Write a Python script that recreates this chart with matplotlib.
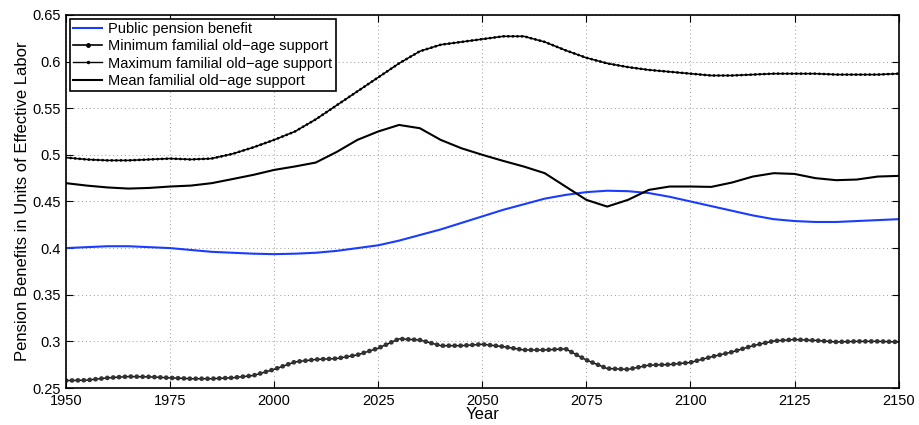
import matplotlib
matplotlib.use("Agg")
import matplotlib.pyplot as plt
from matplotlib.lines import Line2D

plt.rcParams["font.family"] = ["Liberation Sans", "DejaVu Sans"]

years = list(range(1950, 2151, 5))

public = [0.400, 0.401, 0.402, 0.402, 0.401, 0.400, 0.398, 0.396, 0.395, 0.394,
          0.3935, 0.394, 0.395, 0.397, 0.400, 0.403, 0.408, 0.414, 0.420, 0.427,
          0.434, 0.441, 0.447, 0.453, 0.457, 0.460, 0.4615, 0.461, 0.459, 0.455,
          0.450, 0.445, 0.440, 0.435, 0.431, 0.429, 0.428, 0.428, 0.429, 0.430,
          0.431]

fam_min = [0.258, 0.2584, 0.2609, 0.2623, 0.262, 0.2609, 0.260, 0.260, 0.261, 0.2634,
           0.270, 0.278, 0.2806, 0.2816, 0.2855, 0.2927, 0.3027, 0.3015, 0.2954, 0.2954,
           0.2969, 0.2944, 0.2908, 0.2908, 0.292, 0.280, 0.2709, 0.2700, 0.2745, 0.2752,
           0.2774, 0.2834, 0.2886, 0.2954, 0.3004, 0.302, 0.301, 0.2994, 0.300, 0.300,
           0.2994]

fam_max = [0.497, 0.495, 0.494, 0.494, 0.495, 0.496, 0.495, 0.496, 0.501, 0.508,
           0.516, 0.525, 0.538, 0.553, 0.568, 0.583, 0.598, 0.611, 0.618, 0.621,
           0.624, 0.627, 0.627, 0.621, 0.612, 0.604, 0.598, 0.594, 0.591, 0.589,
           0.587, 0.585, 0.585, 0.586, 0.587, 0.587, 0.587, 0.586, 0.586, 0.586,
           0.587]

fam_mean = [0.4696, 0.467, 0.465, 0.4638, 0.4645, 0.466, 0.467, 0.4696, 0.474, 0.4785,
            0.4838, 0.4875, 0.4917, 0.503, 0.516, 0.525, 0.532, 0.5285, 0.516, 0.507,
            0.500, 0.4935, 0.4874, 0.4803, 0.466, 0.4517, 0.4445, 0.4517, 0.4624, 0.466,
            0.466, 0.4656, 0.4703, 0.4767, 0.4803, 0.4795, 0.475, 0.4728, 0.4735, 0.4767,
            0.4774]

fig = plt.figure(figsize=(9.19, 4.25), dpi=100)
ax = fig.add_axes([0.0718, 0.087, 0.906, 0.878])

ax.plot(years, public, color="#1a3cff", lw=1.5)

# dense circle markers in the original -> thick round-capped dotted overlay
ax.plot(years, fam_min, color="black", lw=1.0)
ax.plot(years, fam_min, color="#333333", lw=3.4, linestyle=(0, (0.05, 1.2)),
        dash_capstyle="round")

ax.plot(years, fam_max, color="black", lw=1.1)
ax.plot(years, fam_max, color="black", lw=2.0, linestyle=(0, (0.05, 1.6)),
        dash_capstyle="round")

ax.plot(years, fam_mean, color="black", lw=1.5)

ax.set_xlim(1950, 2150)
ax.set_ylim(0.25, 0.65)
ax.set_xticks(range(1950, 2151, 25))
ax.set_yticks([0.25, 0.3, 0.35, 0.4, 0.45, 0.5, 0.55, 0.6, 0.65])
ax.set_yticklabels(["0.25", "0.3", "0.35", "0.4", "0.45", "0.5", "0.55", "0.6", "0.65"])
ax.tick_params(direction="in", top=True, right=True, labelsize=10.5, length=5)
ax.tick_params(axis="x", pad=4.5)
ax.grid(True, linestyle=(0, (1, 3)), color="#999999", lw=0.7)
for s in ax.spines.values():
    s.set_linewidth(1.2)

ax.set_xlabel("Year", fontsize=12, labelpad=-1)
ax.set_ylabel("Pension Benefits in Units of Effective Labor", fontsize=12, labelpad=2)

handles = [
    Line2D([], [], color="#1a3cff", lw=1.5),
    Line2D([], [], color="black", lw=1.2, marker=".", markersize=5),
    Line2D([], [], color="black", lw=1.0, marker=".", markersize=3),
    Line2D([], [], color="black", lw=1.5),
]
labels = ["Public pension benefit", "Minimum familial old\u2212age support",
          "Maximum familial old\u2212age support", "Mean familial old\u2212age support"]
leg = ax.legend(handles, labels, loc="upper left", fontsize=10.5, fancybox=False,
                framealpha=1, edgecolor="black", borderpad=0.25, labelspacing=0.22,
                handlelength=2.0, handletextpad=0.4, borderaxespad=0.25)
leg.get_frame().set_linewidth(1.2)

fig.savefig("out.png", dpi=100)
